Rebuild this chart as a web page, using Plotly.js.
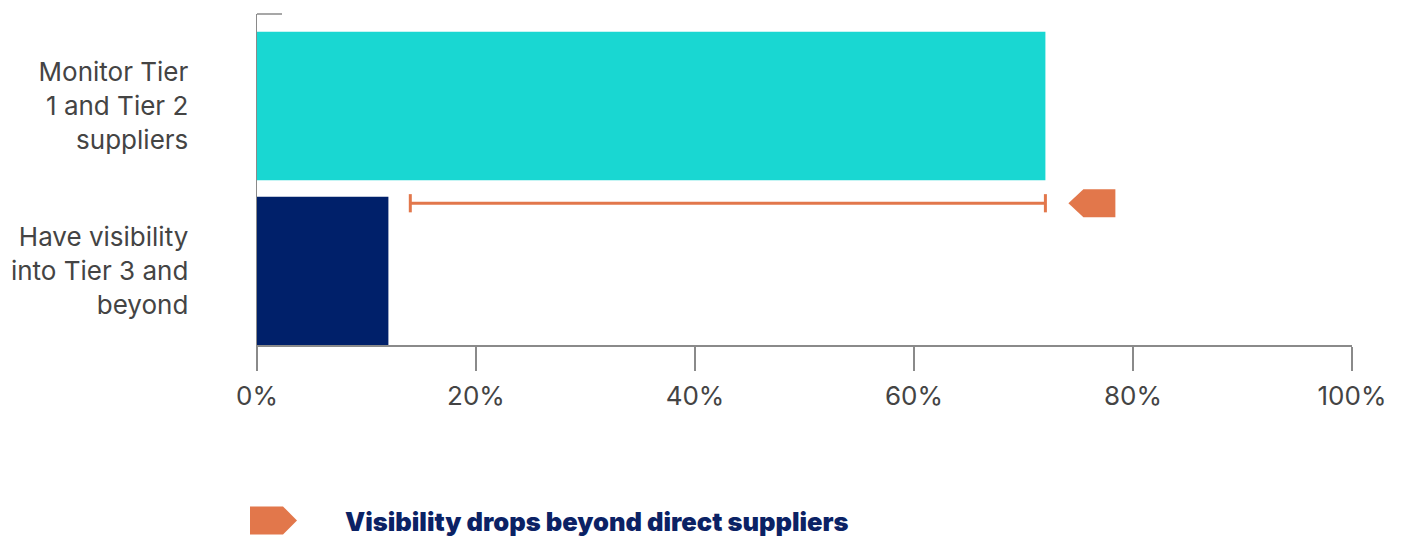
<!DOCTYPE html>
<html>
<head>
<meta charset="utf-8">
<script src="https://cdn.plot.ly/plotly-3.0.1.min.js"></script>
<style>html,body{margin:0;padding:0;background:#fff;}#chart{width:1403px;height:536px;}</style>
</head>
<body>
<div id="chart"></div>
<script>
// ---- data ----
var categories = ["Monitor Tier<br>1 and Tier 2<br>suppliers", "Have visibility<br>into Tier 3 and<br>beyond"];
var values = [72, 12];
var barColors = ["#19D7D2", "#00206A"];
var dropFrom = [72];
var dropTo = [14];
var legendLabel = "Visibility drops beyond direct suppliers";
var xTickVals = [0, 20, 40, 60, 80, 100];
var xTickText = ["0%", "20%", "40%", "60%", "80%", "100%"];

var orange = "#E2774B";
var catPos = categories.map(function (_, i) { return i; });
var dropY = 0.59;

var traces = [
  {
    type: "bar",
    orientation: "h",
    y: catPos,
    x: values,
    width: 0.9,
    marker: { color: barColors },
    hoverinfo: "x",
    showlegend: false
  },
  {
    type: "scatter",
    mode: "lines+markers",
    x: [dropTo[0], dropFrom[0]],
    y: [dropY, dropY],
    line: { color: orange, width: 3 },
    marker: { symbol: "line-ns", size: 13, line: { color: orange, width: 3 } },
    hoverinfo: "skip",
    showlegend: false
  }
];

var layout = {
  width: 1403,
  height: 536,
  margin: { l: 257, r: 51, t: 14, b: 191 },
  paper_bgcolor: "#fff",
  plot_bgcolor: "#fff",
  font: { family: "Inter, Roboto, sans-serif", color: "#444" },
  showlegend: false,
  bargap: 0.1,
  xaxis: {
    range: [0, 100],
    tickvals: xTickVals,
    ticktext: xTickText,
    showgrid: false,
    zeroline: false,
    showline: true,
    linecolor: "#8a8a8a",
    linewidth: 1.5,
    ticks: "outside",
    ticklen: 24,
    tickwidth: 1.5,
    tickcolor: "#8a8a8a",
    ticklabelstandoff: 3,
    tickfont: { size: 26, color: "#444" },
    fixedrange: true
  },
  yaxis: {
    range: [1.45, -0.558],
    tickvals: catPos,
    ticktext: categories,
    showgrid: false,
    zeroline: false,
    showline: true,
    linecolor: "#8a8a8a",
    linewidth: 1.5,
    ticks: "",
    ticklabelstandoff: 62,
    tickfont: { size: 26, color: "#444" },
    fixedrange: true
  },
  shapes: [
    { type: "line", xref: "paper", yref: "paper", xsizemode: "pixel", xanchor: 0,
      x0: 0, x1: 25, y0: 1, y1: 1, line: { color: "#8a8a8a", width: 1.5 } },
    { type: "path", xref: "x", yref: "y", xsizemode: "pixel", ysizemode: "pixel",
      xanchor: dropFrom[0], yanchor: dropY,
      path: "M23,0 L38,14 L70,14 L70,-14 L38,-14 Z",
      fillcolor: orange, line: { width: 0 } },
    { type: "path", xref: "paper", yref: "paper", xsizemode: "pixel", ysizemode: "pixel",
      xanchor: 0, yanchor: -0.53,
      path: "M-7,14 L26,14 L40,0 L26,-14 L-7,-14 Z",
      fillcolor: orange, line: { width: 0 } }
  ],
  annotations: [
    { xref: "paper", yref: "paper", x: 0.0785, y: -0.532, xanchor: "left", yanchor: "middle",
      showarrow: false, text: legendLabel,
      font: { size: 25.5, weight: 900, color: "#0B2265", family: "Inter, Roboto, sans-serif" } }
  ]
};

Plotly.newPlot("chart", traces, layout, { displayModeBar: false, staticPlot: true });
</script>
</body>
</html>
